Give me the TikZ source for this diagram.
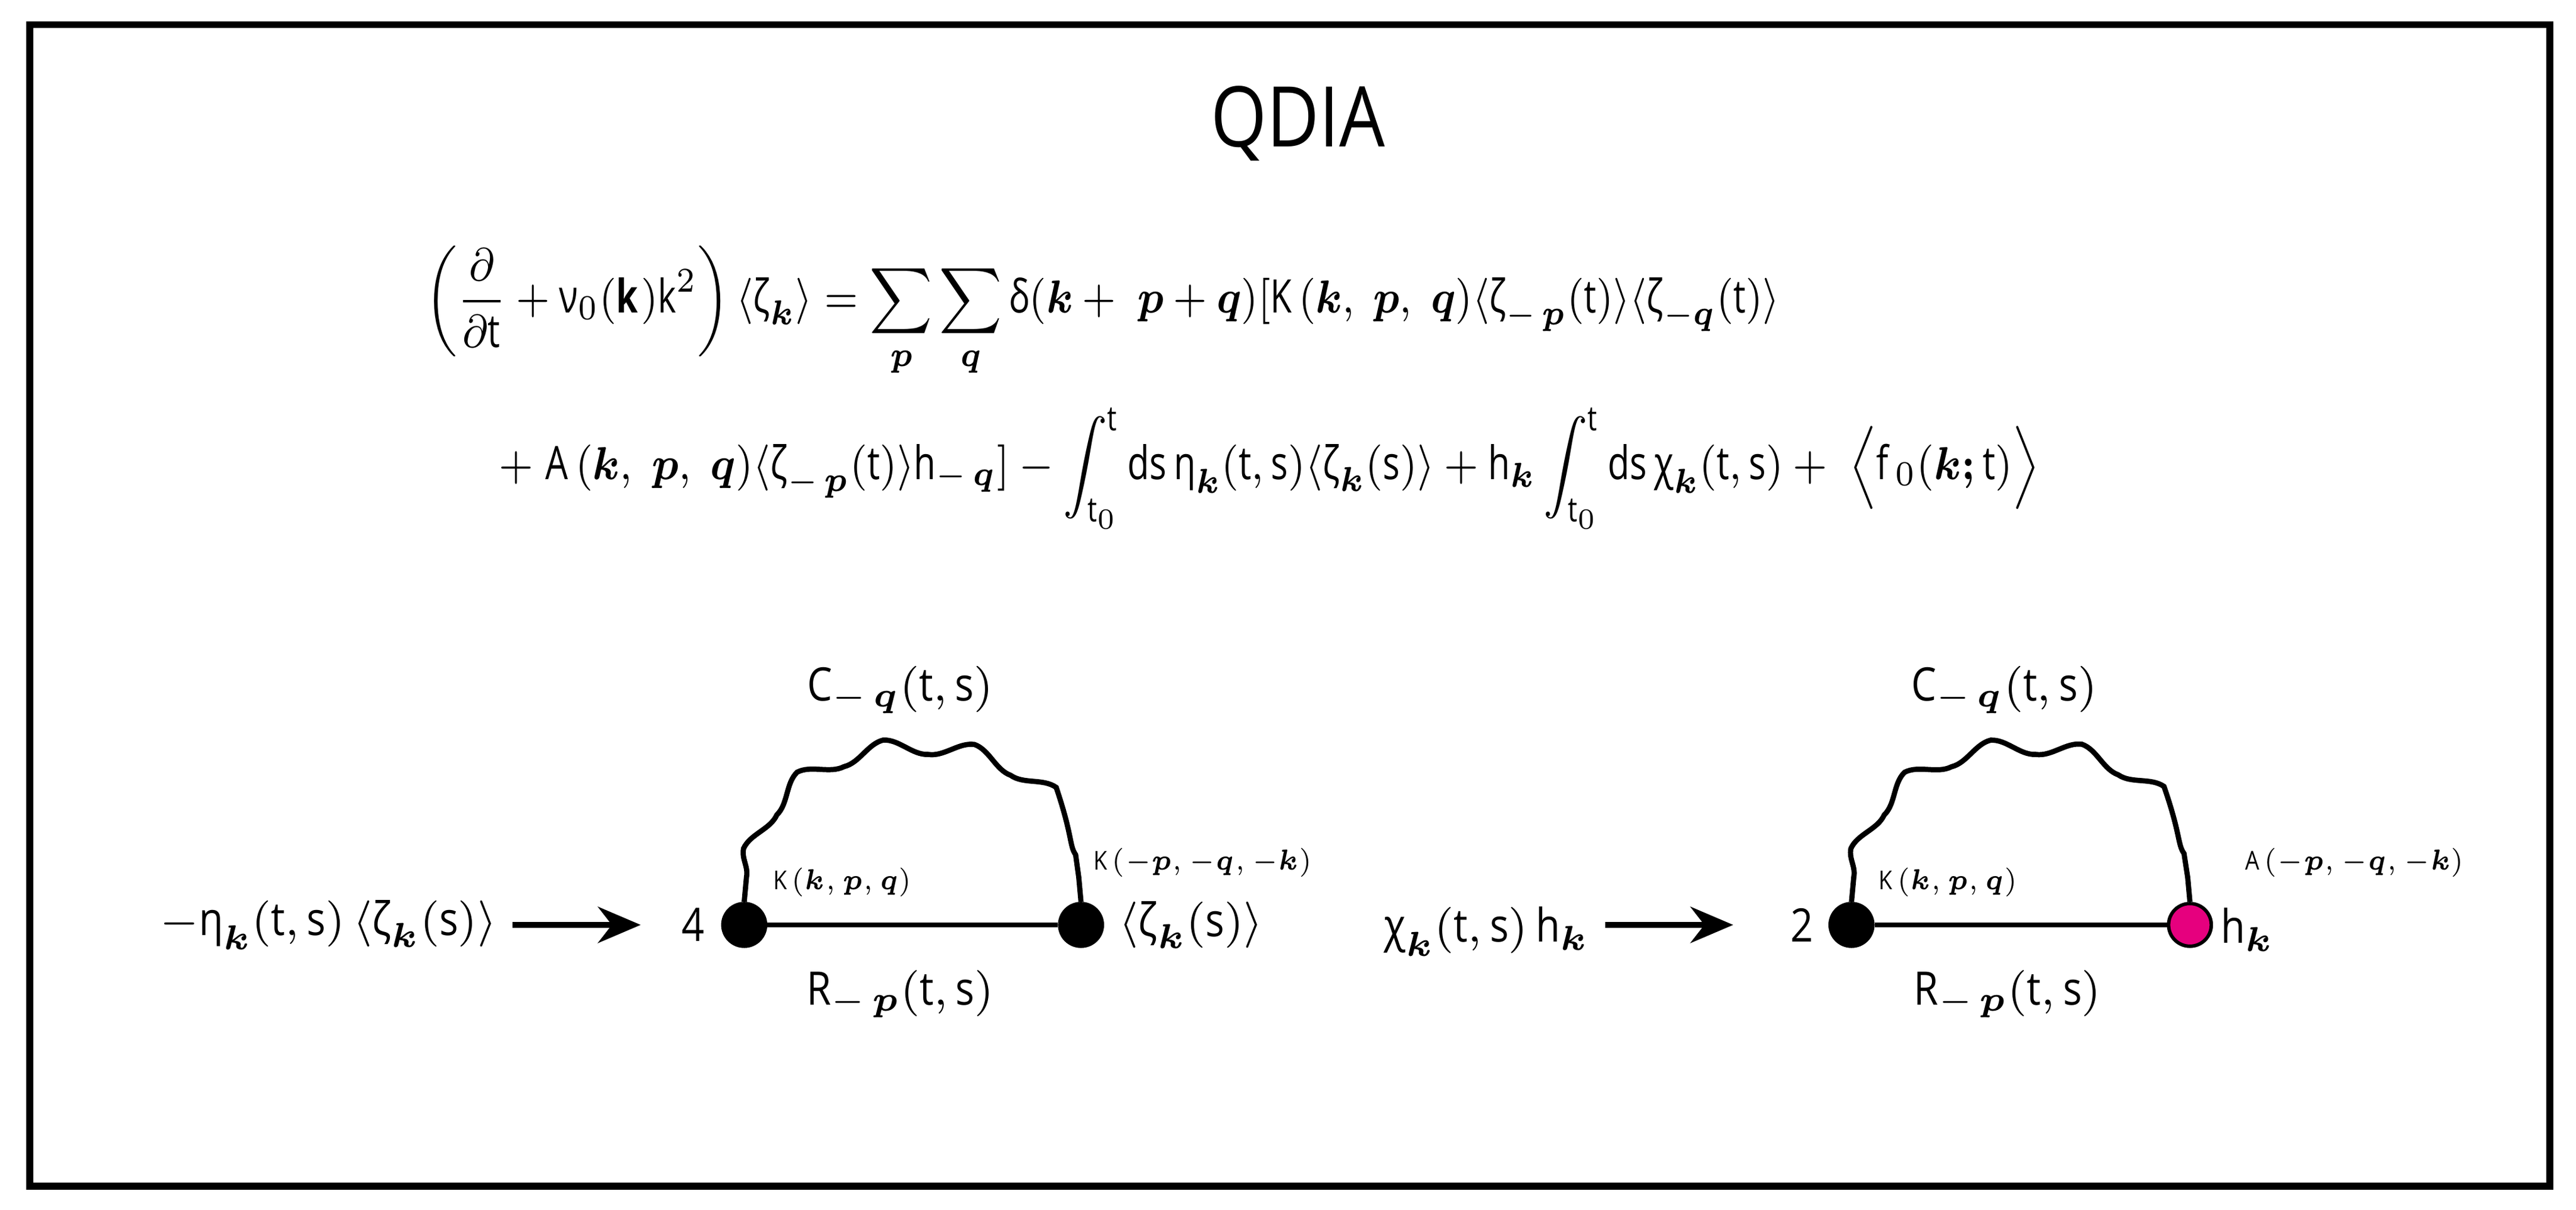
\documentclass[tikz,border=0pt]{standalone}
\usepackage{amsmath}
\usepackage{bm}
\usepackage{fontspec}
\setmainfont{Open Sans}[FakeStretch=0.86]
\usetikzlibrary{decorations.pathmorphing,arrows.meta}
\definecolor{pinkdot}{HTML}{E6007E}
\newcommand{\tx}[1]{\text{#1}}
\newcommand{\bk}{\bm{k}}
\newcommand{\bp}{\bm{p}}
\newcommand{\bq}{\bm{q}}
\begin{document}
\begin{tikzpicture}[x=0.1mm,y=-0.1mm,
  lbl/.style={font=\fontsize{8}{10}\selectfont,inner sep=0},
  small/.style={font=\fontsize{4.5}{5}\selectfont,inner sep=0,anchor=west},
  dot/.style={circle,draw=black,line width=0.6pt,fill=black,minimum size=2.6mm,inner sep=0},
  pdot/.style={dot,fill=pinkdot},
  prop/.style={line width=0.9pt},
  wavy/.style={line width=0.9pt,decorate,decoration={snake,amplitude=0.5mm,segment length=5.4mm,pre length=1.5mm,post length=1.5mm}},
  arr/.style={line width=1pt,-{Stealth[length=2.6mm,width=2.2mm]}}]
\useasboundingbox (0,0) rectangle (1568,736.5);
\draw[line width=1.2pt] (18,15) rectangle (1552,722);
\node[font=\fontsize{14.5}{16}\selectfont] (title) at (790,75) {QDIA};
\node[lbl,anchor=west] (eq1) at (258,190) {\scalebox{0.88}[1]{$\left(\dfrac{\partial}{\partial\tx{t}}+\tx{ν}_0(\mathbf{k})\tx{k}^2\right)\langle\tx{ζ}_{\bk}\rangle=\displaystyle\sum_{\bp}\sum_{\bq}\tx{δ}(\bk+\;\bp+\bq)[\tx{K}\,(\bk,\;\bp,\;\bq)\langle\tx{ζ}_{-\,\bp}(\tx{t})\rangle\langle\tx{ζ}_{-\bq}(\tx{t})\rangle$}};
\node[lbl,anchor=west] (eq2) at (303,285) {\scalebox{0.9}[1]{$+\;\tx{A}\,(\bk,\;\bp,\;\bq)\langle\tx{ζ}_{-\,\bp}(\tx{t})\rangle\tx{h}_{-\,\bq}]-\displaystyle\int_{\tx{t}_0}^{\tx{t}}\tx{ds}\,\tx{η}_{\bk}(\tx{t},\tx{s})\langle\tx{ζ}_{\bk}(\tx{s})\rangle+\tx{h}_{\bk}\int_{\tx{t}_0}^{\tx{t}}\tx{ds}\,\tx{χ}_{\bk}(\tx{t},\tx{s})+\;\Big\langle\tx{f}_{\,0}(\bk\bm{;}\tx{t})\Big\rangle$}};
% diagram 1
\node[lbl] (l1) at (200,563) {$-\tx{η}_{\bk}(\tx{t},\tx{s})\,\langle\tx{ζ}_{\bk}(\tx{s})\rangle$};
\coordinate (a1s) at (312,563); \coordinate (a1e) at (390,563);
\draw[arr] (a1s) -- (a1e);
\node[dot] (d1) at (453,563) {};
\node[dot] (d2) at (658,563) {};
\draw[prop] (d1) -- (d2);
\draw[wavy] (d1.north) .. controls (453,440) and (658,440) .. (d2.north);
\node[lbl] (c1) at (548,420) {$\tx{C}_{-\,\bq}(\tx{t},\tx{s})$};
\node[lbl] (r1) at (548,605) {$\tx{R}_{-\,\bp}(\tx{t},\tx{s})$};
\node[lbl] (n4) at (422,563) {4};
\node[lbl] (z1) at (725,563) {$\langle\tx{ζ}_{\bk}(\tx{s})\rangle$};
\node[small] (k1) at (470,537) {K\,\scalebox{0.85}[1]{$(\bk,\bp,\bq)$}};
\node[small] (k2) at (665,525) {K\,\scalebox{0.85}[1]{$(-\bp,-\bq,-\bk)$}};
% diagram 2
\node[lbl] (l2) at (905,567) {$\tx{χ}_{\bk}(\tx{t},\tx{s})\,\tx{h}_{\bk}$};
\coordinate (a2s) at (977,563); \coordinate (a2e) at (1055,563);
\draw[arr] (a2s) -- (a2e);
\node[dot] (e1) at (1127,563) {};
\node[pdot] (e2) at (1333,563) {};
\draw[prop] (e1) -- (e2);
\draw[wavy] (e1.north) .. controls (1127,440) and (1333,440) .. (e2.north);
\node[lbl] (c2) at (1220,420) {$\tx{C}_{-\,\bq}(\tx{t},\tx{s})$};
\node[lbl] (r2) at (1222,605) {$\tx{R}_{-\,\bp}(\tx{t},\tx{s})$};
\node[lbl] (n2) at (1097,563) {2};
\node[lbl] (h2) at (1368,566) {$\tx{h}_{\bk}$};
\node[small] (k3) at (1143,537) {K\,\scalebox{0.85}[1]{$(\bk,\bp,\bq)$}};
\node[small] (k4) at (1366,525) {A\,\scalebox{0.85}[1]{$(-\bp,-\bq,-\bk)$}};
\end{tikzpicture}
\end{document}
